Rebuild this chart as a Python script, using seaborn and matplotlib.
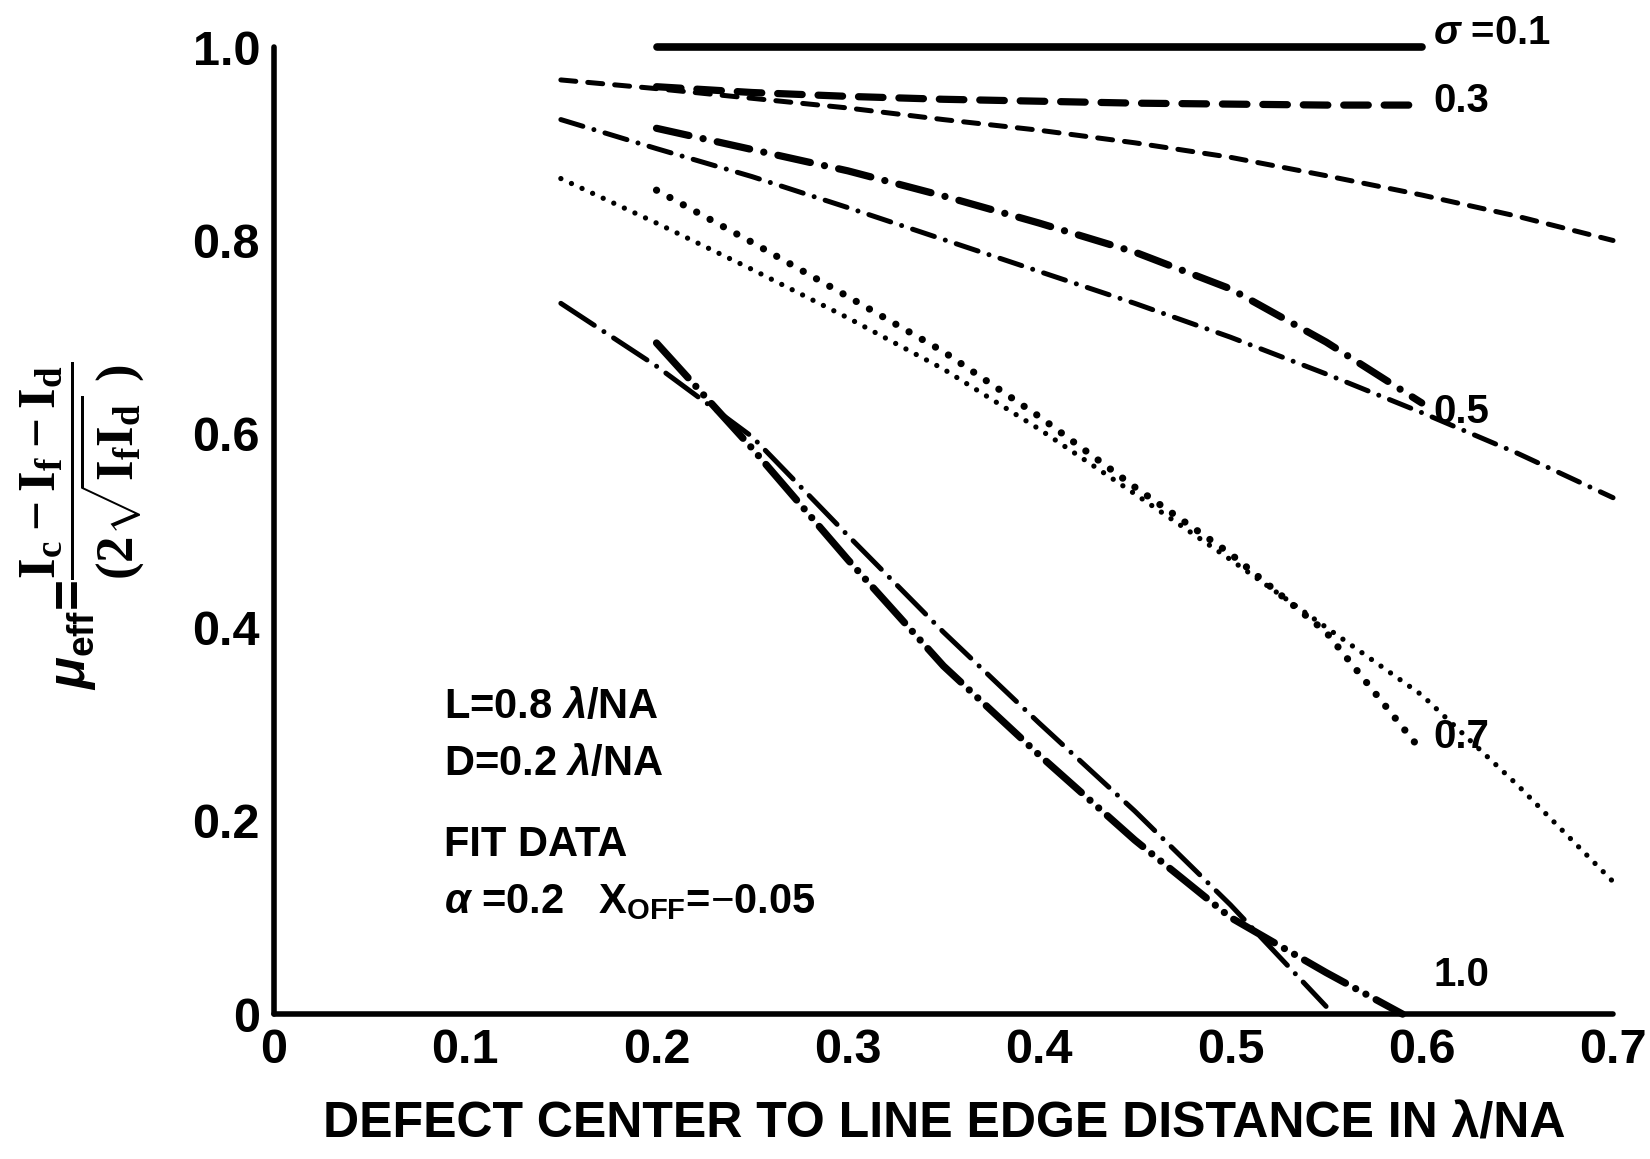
import numpy as np
import pandas as pd
import matplotlib
matplotlib.use("Agg")
import matplotlib.pyplot as plt
import seaborn as sns

# ---------------- data ----------------
x_fit = [0.15, 0.20, 0.25, 0.30, 0.35, 0.40, 0.45, 0.50, 0.55, 0.60, 0.65, 0.70]
x_data = [0.20, 0.25, 0.30, 0.35, 0.40, 0.45, 0.50, 0.55, 0.60]
x_fit_s10 = [0.15, 0.20, 0.25, 0.30, 0.35, 0.40, 0.45, 0.50, 0.55]
x_data_s10 = [0.20, 0.25, 0.30, 0.35, 0.40, 0.45, 0.50, 0.55, 0.59]

s01_data = [1.000, 1.000, 1.000, 1.000, 1.000, 1.000, 1.000, 1.000, 1.000]

s03_data = [0.959, 0.953, 0.949, 0.946, 0.944, 0.942, 0.941, 0.940, 0.940]
s03_fit = [0.966, 0.957, 0.947, 0.937, 0.925, 0.914, 0.901, 0.886, 0.867, 0.847, 0.825, 0.800]

s05_data = [0.916, 0.894, 0.872, 0.846, 0.818, 0.788, 0.750, 0.695, 0.632]
s05_fit = [0.925, 0.895, 0.866, 0.834, 0.801, 0.768, 0.735, 0.700, 0.662, 0.622, 0.580, 0.534]

s07_data = [0.852, 0.798, 0.742, 0.685, 0.618, 0.545, 0.476, 0.395, 0.272]
s07_fit = [0.864, 0.818, 0.770, 0.720, 0.667, 0.605, 0.538, 0.470, 0.400, 0.330, 0.237, 0.137]

s10_data = [0.694, 0.585, 0.470, 0.360, 0.268, 0.180, 0.100, 0.043, 0.000]
s10_fit = [0.735, 0.670, 0.597, 0.495, 0.395, 0.301, 0.210, 0.113, 0.008]

curve_labels = [r"$\sigma$ =0.1", "0.3", "0.5", "0.7", "1.0"]
curve_label_y = [1.015, 0.944, 0.623, 0.287, 0.040]

x_ticks = [0.0, 0.1, 0.2, 0.3, 0.4, 0.5, 0.6, 0.7]
x_tick_labels = ["0", "0.1", "0.2", "0.3", "0.4", "0.5", "0.6", "0.7"]
y_ticks = [0.0, 0.1, 0.2, 0.3, 0.4, 0.5, 0.6, 0.7, 0.8, 0.9, 1.0]
y_tick_labels = ["0", "", "0.2", "", "0.4", "", "0.6", "", "0.8", "", "1.0"]

info_lines = [r"L=0.8 $\lambda$/NA", r"D=0.2 $\lambda$/NA", "FIT DATA",
              r"$\alpha$ =0.2   X$_{\mathsf{OFF}}$=$-$0.05"]
info_y = [0.318, 0.259, 0.175, 0.116]

x_title = "DEFECT CENTER TO LINE EDGE DISTANCE IN \u03bb/NA"
y_title = (r"$\mu_{\mathsf{eff}}$=$\dfrac{\mathrm{I_c - I_f - I_d}}"
           r"{\mathrm{(2\sqrt{I_f I_d}\ )}}$")

# ---------------- style ----------------
sns.set_style("white")
plt.rcParams["font.family"] = ["Liberation Sans", "DejaVu Sans"]
plt.rcParams["font.weight"] = "bold"
plt.rcParams["text.color"] = "black"
plt.rcParams["axes.labelcolor"] = "black"
plt.rcParams["xtick.color"] = "black"
plt.rcParams["ytick.color"] = "black"
plt.rcParams["mathtext.fontset"] = "custom"
plt.rcParams["mathtext.rm"] = "Liberation Serif:bold"
plt.rcParams["mathtext.it"] = "Liberation Sans:bold:italic"
plt.rcParams["mathtext.bf"] = "Liberation Sans:bold"
plt.rcParams["mathtext.sf"] = "Liberation Sans:bold"

fig, ax = plt.subplots(figsize=(16.5, 11.59), dpi=100)
fig.subplots_adjust(left=0.166, right=0.9776, bottom=0.125, top=0.9594)

K = "black"
THICK = 5.2
THIN = 3.6

def draw(x, y, lw, ls):
    sns.lineplot(x=x, y=y, ax=ax, color=K, linewidth=lw, linestyle=ls,
                 estimator=None, sort=False, clip_on=False,
                 dash_capstyle="round", solid_capstyle="round")

# sigma = 0.1
draw(x_data, s01_data, 5.5, "-")
# sigma = 0.3
draw(x_data, s03_data, THICK, (0, (3.4, 2.2)))
draw(x_fit, s03_fit, THIN, (0, (3.0, 2.4)))
# sigma = 0.5
draw(x_data, s05_data, THICK, (0, (4.6, 2.0, 0.01, 2.0)))
draw(x_fit, s05_fit, THIN, (0, (4.6, 2.3, 0.01, 2.3)))
# sigma = 0.7
draw(x_data, s07_data, THICK, (0, (0.01, 2.1)))
draw(x_fit, s07_fit, 3.8, (0, (0.01, 2.2)))
# sigma = 1.0
draw(x_data_s10, s10_data, THICK, (0, (6.5, 1.6, 0.01, 1.6, 0.01, 1.6)))
draw(x_fit_s10, s10_fit, THIN, (0, (8.0, 2.3, 0.01, 2.3)))

ax.set_xlim(0, 0.7)
ax.set_ylim(0, 1.0)
ax.set_xticks(x_ticks)
ax.set_xticklabels(x_tick_labels)
ax.set_yticks(y_ticks)
ax.set_yticklabels(y_tick_labels)
ax.tick_params(axis="both", direction="in", length=14, width=3.0,
               labelsize=35, pad=10, color=K, labelcolor=K)
for lab in ax.get_xticklabels() + ax.get_yticklabels():
    lab.set_fontweight("bold")
for s in ["top", "right"]:
    ax.spines[s].set_visible(False)
for s in ["left", "bottom"]:
    ax.spines[s].set_linewidth(4.0)
    ax.spines[s].set_color(K)
    ax.spines[s].set_capstyle("round")
ax.set_xlabel("")
ax.set_ylabel("")

for lab, yy in zip(curve_labels, curve_label_y):
    ax.text(0.606, yy, lab, fontsize=29, fontweight="bold", ha="left",
            va="center", clip_on=False, color=K)

for txt, yy in zip(info_lines, info_y):
    ax.text(0.089, yy, txt, fontsize=30, fontweight="bold", ha="left",
            va="center", color=K)

fig.text(0.572, 0.030, x_title, fontsize=36, fontweight="bold",
         ha="center", va="center", color=K)
fig.text(0.050, 0.546, y_title, fontsize=38, fontweight="bold",
         rotation=90, ha="center", va="center", color=K)

fig.savefig("out.png", dpi=100, facecolor="white")
